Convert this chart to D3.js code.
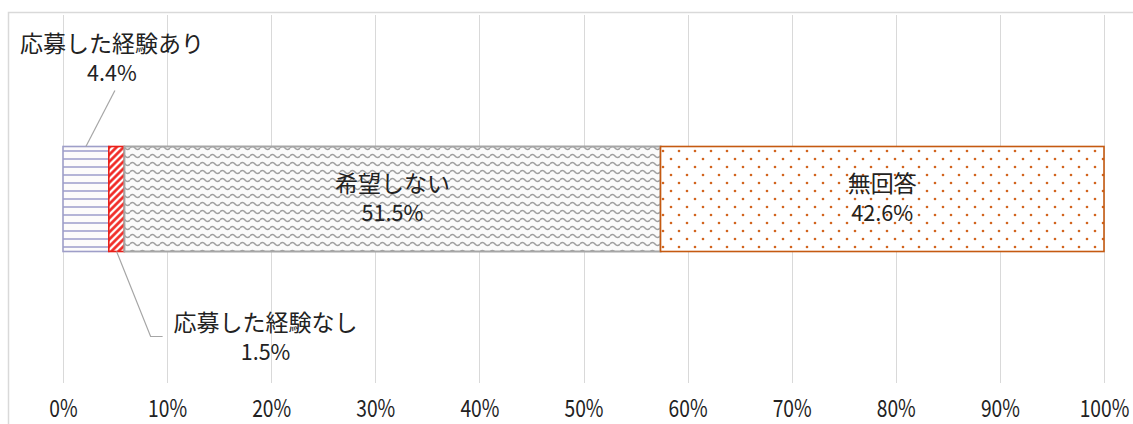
<!DOCTYPE html>
<html>
<head>
<meta charset="utf-8">
<script src="https://cdn.jsdelivr.net/npm/d3@7"></script>
<style>
  html, body { margin: 0; padding: 0; background: #fff; }
  svg { display: block; }
  text { font-family: "Noto Sans CJK JP", "Noto Sans", sans-serif; fill: #222; }
</style>
</head>
<body>
<svg id="chart" width="1133" height="424"></svg>
<script>
// Response categories and their shares (%)
const categories = ["応募した経験あり", "応募した経験なし", "希望しない", "無回答"];
const values = [4.4, 1.5, 51.5, 42.6];
const tickValues = [0, 10, 20, 30, 40, 50, 60, 70, 80, 90, 100];
const tickLabels = ["0%", "10%", "20%", "30%", "40%", "50%", "60%", "70%", "80%", "90%", "100%"];
const rowName = ["回答"];

const W = 1133, H = 424;
const plot = { left: 63, right: 1104, top: 15, bottom: 383 };

const svg = d3.select("#chart");
const defs = svg.append("defs");

// Fill patterns for each segment
const pHoriz = defs.append("pattern").attr("id", "pat-horiz")
  .attr("patternUnits", "userSpaceOnUse").attr("width", 8).attr("height", 8);
pHoriz.append("rect").attr("width", 8).attr("height", 8).attr("fill", "#fdfbfb");
pHoriz.append("line").attr("x1", 0).attr("x2", 8).attr("y1", 7).attr("y2", 7)
  .attr("stroke", "#a3a3cf").attr("stroke-width", 1.6);

const pDiag = defs.append("pattern").attr("id", "pat-diag")
  .attr("patternUnits", "userSpaceOnUse").attr("width", 5).attr("height", 5)
  .attr("patternTransform", "rotate(45)");
pDiag.append("rect").attr("width", 5).attr("height", 5).attr("fill", "#fff");
pDiag.append("line").attr("x1", 1.5).attr("x2", 1.5).attr("y1", 0).attr("y2", 5)
  .attr("stroke", "#f0201c").attr("stroke-width", 2.6);

const pWave = defs.append("pattern").attr("id", "pat-wave")
  .attr("patternUnits", "userSpaceOnUse").attr("width", 10).attr("height", 8);
pWave.append("rect").attr("width", 10).attr("height", 8).attr("fill", "#fbfbfb");
pWave.append("path").attr("d", "M0,4 Q2.5,1 5,4 T10,4")
  .attr("fill", "none").attr("stroke", "#a0a0a0").attr("stroke-width", 1.6);

const pDots = defs.append("pattern").attr("id", "pat-dots")
  .attr("patternUnits", "userSpaceOnUse").attr("width", 16).attr("height", 16)
  .attr("x", 4).attr("y", 4);
pDots.append("rect").attr("width", 16).attr("height", 16).attr("fill", "#fff");
pDots.append("circle").attr("cx", 3).attr("cy", 3).attr("r", 1.3).attr("fill", "#d2641e");
pDots.append("circle").attr("cx", 11).attr("cy", 11).attr("r", 1.3).attr("fill", "#d2641e");

const fills = ["url(#pat-horiz)", "url(#pat-diag)", "url(#pat-wave)", "url(#pat-dots)"];
const strokes = ["#9e9ec8", "#e8201a", "#a6a6a6", "#c55a11"];
const strokeW = [1.6, 1.6, 2, 1.6];

// Scales
const x = d3.scaleLinear().domain([0, 100]).range([plot.left, plot.right]);
const y = d3.scaleBand().domain(rowName).range([plot.top, plot.bottom]).padding(0.556);

// Chart frame
svg.append("rect").attr("x", 8.5).attr("y", 12.5).attr("width", W + 20).attr("height", H + 20)
  .attr("fill", "none").attr("stroke", "#d9d9d9").attr("stroke-width", 1.5);

// Vertical gridlines
svg.append("g").selectAll("line").data(tickValues).join("line")
  .attr("x1", d => Math.round(x(d)) + 0.5).attr("x2", d => Math.round(x(d)) + 0.5)
  .attr("y1", plot.top).attr("y2", plot.bottom)
  .attr("stroke", "#d9d9d9").attr("stroke-width", 1);

// Axis tick labels (narrow, tall digits)
const axis = d3.axisBottom(x).tickValues(tickValues)
  .tickFormat((d, i) => tickLabels[i]).tickSize(0).tickPadding(0);
const axG = svg.append("g").attr("transform", `translate(0,${plot.bottom})`).call(axis);
axG.select(".domain").remove();
axG.selectAll("text")
  .attr("y", 34).attr("dy", 0)
  .attr("transform", "scale(0.8,1)")
  .style("font-size", "24px").style("font-family", "'Noto Sans CJK JP', sans-serif")
  .attr("fill", "#222");

// Stacked segments
const starts = d3.cumsum([0, ...values]);
const segs = categories.map((c, i) => ({ cat: c, v: values[i], x0: starts[i], x1: starts[i] + values[i], i }));
const y0 = y(rowName[0]), bw = y.bandwidth();

svg.append("g").selectAll("rect").data(segs).join("rect")
  .attr("x", d => x(d.x0)).attr("y", y0)
  .attr("width", d => x(d.x1) - x(d.x0)).attr("height", bw)
  .attr("fill", d => fills[d.i]).attr("stroke", d => strokes[d.i])
  .attr("stroke-width", d => strokeW[d.i]);

// Two-line data label: category name over percentage
const pct = v => v.toFixed(1) + "%";
function label(i, cx, baseline) {
  const t = svg.append("text").attr("text-anchor", "middle").style("font-size", "23px");
  t.append("tspan").attr("x", cx).attr("y", baseline).text(categories[i]);
  const p = pct(values[i]);
  t.append("tspan").attr("x", cx).attr("y", baseline + 29).style("font-size", "22px")
    .attr("textLength", p.length * 12.4).attr("lengthAdjust", "spacingAndGlyphs").text(p);
}

// Inside labels for the two large segments
[2, 3].forEach(i => label(i, x((segs[i].x0 + segs[i].x1) / 2), y0 + 46));

// Callout for the first segment (above)
const c0 = x((segs[0].x0 + segs[0].x1) / 2);
svg.append("line").attr("x1", c0).attr("y1", y0).attr("x2", c0 + 29).attr("y2", y0 - 56)
  .attr("stroke", "#a6a6a6").attr("stroke-width", 1.2);
label(0, c0 + 26, y0 - 94);

// Callout for the second segment (below)
const c1 = x((segs[1].x0 + segs[1].x1) / 2);
svg.append("polyline")
  .attr("points", `${c1},${y0 + bw} ${c1 + 34},${y0 + bw + 85} ${c1 + 46},${y0 + bw + 85}`)
  .attr("fill", "none").attr("stroke", "#a6a6a6").attr("stroke-width", 1.2);
label(1, c1 + 149, y0 + bw + 79);
</script>
</body>
</html>
